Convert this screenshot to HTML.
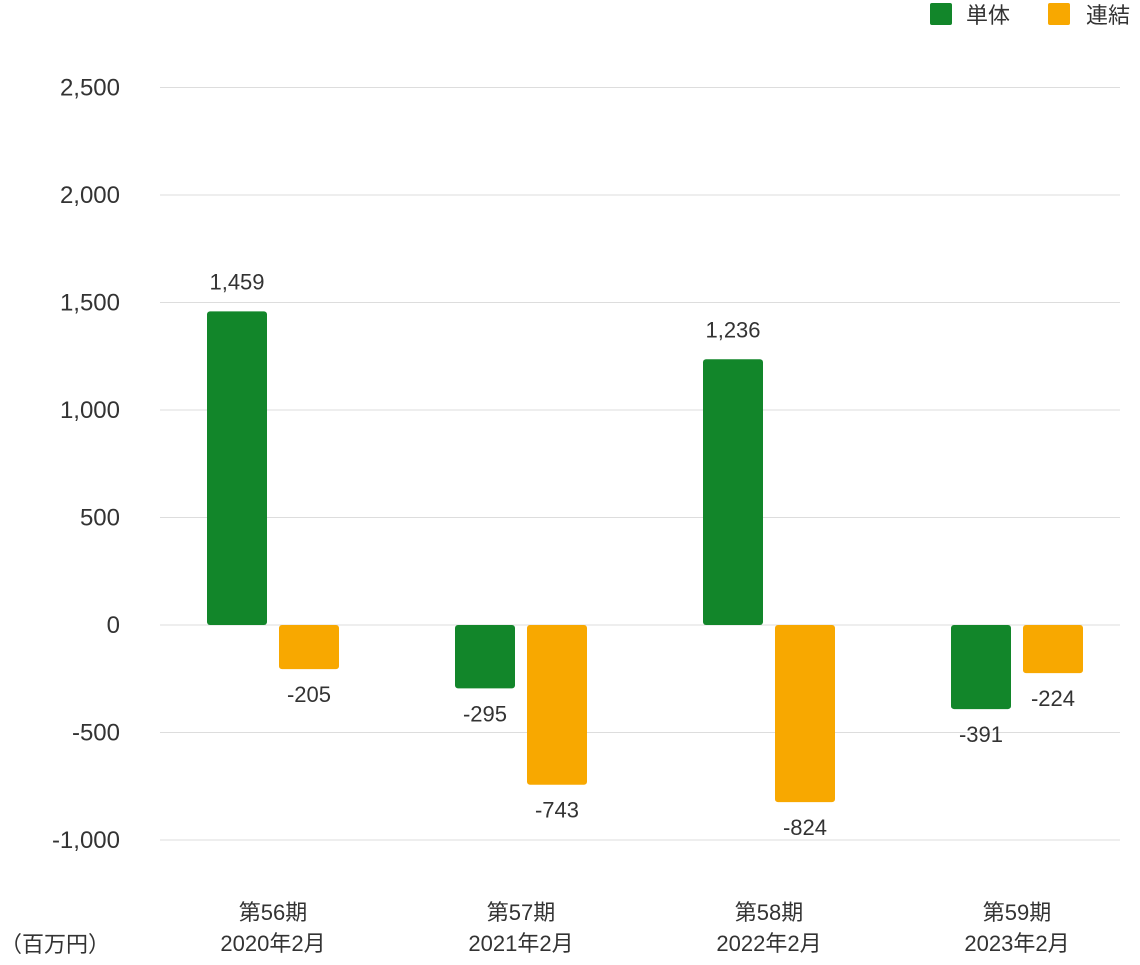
<!DOCTYPE html>
<html><head><meta charset="utf-8"><style>
body{margin:0;background:#fff;}
svg text{font-family:"Liberation Sans","Noto Sans CJK JP",sans-serif;fill:#333;}
</style></head><body>
<svg id="chart" width="1140" height="960" xmlns="http://www.w3.org/2000/svg">
<g id="grid"></g>
<g id="yticks"></g>
<g id="bars"></g>
<g id="xticks"></g>
<text x="0" y="952" font-size="22">（百万円）</text>
<g>
<rect x="930" y="3" width="22" height="22" rx="2" fill="#12862a"/>
<text x="966" y="23" font-size="22">単体</text>
<rect x="1048" y="3" width="22" height="22" rx="2" fill="#f8a800"/>
<text x="1086" y="23" font-size="22">連結</text>
</g>
</svg>
<script>
const categories=["第56期","第57期","第58期","第59期"];
const subLabels=["2020年2月","2021年2月","2022年2月","2023年2月"];
const single=[1459,-295,1236,-391];
const consolidated=[-205,-743,-824,-224];
const yTicks=[2500,2000,1500,1000,500,0,-500,-1000];
const NS="http://www.w3.org/2000/svg";
const y=v=>625-v*0.215;
const x0=149,band=248;
const bx=i=>x0+band*i+band/2;
const fmt=v=>(v<0?"-":"")+Math.abs(v).toLocaleString("en-US");
function mk(t,a,p){const e=document.createElementNS(NS,t);for(const k in a)e.setAttribute(k,a[k]);p.appendChild(e);return e;}
const grid=document.getElementById("grid"),yt=document.getElementById("yticks"),bars=document.getElementById("bars"),xt=document.getElementById("xticks");
yTicks.forEach(v=>{
 const l=mk("line",{x1:160,x2:1120,y1:y(v),y2:y(v),stroke:"#ddd","stroke-width":1},grid);
 
 
 const t=mk("text",{x:120,y:y(v)+8,"font-size":24,"text-anchor":"end"},yt);
 t.textContent=fmt(v);
 
 
});
function bar(v,cx,color,name){
 const top=Math.min(y(v),y(0)),h=Math.abs(y(v)-y(0));
 const r=mk("rect",{x:cx-30,y:top,width:60,height:h,rx:3,fill:color},bars);
 
 
 const t=mk("text",{x:cx,y:v>=0?y(v)-22:y(v)+33,"font-size":22,"text-anchor":"middle"},bars);
 t.textContent=fmt(v);
 
 
}
categories.forEach((c,i)=>{
 const cx=bx(i);
 bar(single[i],cx-36,"#12862a","bar-single-"+(i+1));
 bar(consolidated[i],cx+36,"#f8a800","bar-consolidated-"+(i+1));
 const t1=mk("text",{x:cx,y:920,"font-size":22,"text-anchor":"middle"},xt);
 t1.textContent=c;
 
 
 const t2=mk("text",{x:cx,y:951,"font-size":22,"text-anchor":"middle"},xt);
 t2.textContent=subLabels[i];
 
 
});
</script>
</body></html>
